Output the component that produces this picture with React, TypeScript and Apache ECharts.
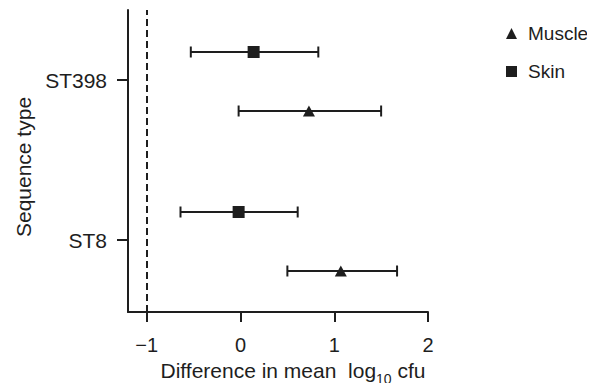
import React, { useEffect, useRef } from "react";
import * as echarts from "echarts";

const categories = ["ST8", "ST398"];
const seriesNames = ["Muscle", "Skin"];
// mean difference per category (ST8, ST398)
const muscleMean = [1.07, 0.73];
const muscleLow = [0.5, -0.02];
const muscleHigh = [1.67, 1.5];
const skinMean = [-0.02, 0.14];
const skinLow = [-0.64, -0.53];
const skinHigh = [0.61, 0.83];
const xTicks = [-1, 0, 1, 2];
const refLine = -1;

const INK = "#1e1e1e";
const FONT = "Liberation Sans, Arial, Helvetica, sans-serif";

export default function App() {
  const ref = useRef<HTMLDivElement>(null);
  useEffect(() => {
    if (!ref.current) return;
    const chart = echarts.init(ref.current, null, { renderer: "svg" });
    const catVal = (i: number) => i + 1;
    const errSeries = (name: string, low: number[], high: number[], off: number) => ({
      type: "custom",
      name: name + "-err",
      silent: true,
      data: categories.map((_, i) => [low[i], high[i], catVal(i)]),
      encode: { x: [0, 1], y: 2 },
      renderItem: (params: any, api: any) => {
        const p1 = api.coord([api.value(0), api.value(2)]);
        const p2 = api.coord([api.value(1), api.value(2)]);
        const y = p1[1] + off;
        const cap = 5.5;
        const st = { stroke: INK, lineWidth: 2 };
        return {
          type: "group",
          children: [
            { type: "line", shape: { x1: p1[0], y1: y, x2: p2[0], y2: y }, style: st },
            { type: "line", shape: { x1: p1[0], y1: y - cap, x2: p1[0], y2: y + cap }, style: st },
            { type: "line", shape: { x1: p2[0], y1: y - cap, x2: p2[0], y2: y + cap }, style: st },
          ],
        };
      },
      z: 2,
    });
    const option: any = {
      animation: false,
      textStyle: { fontFamily: FONT },
      grid: { left: 128, right: 167, top: 10, bottom: 79 },
      legend: {
        orient: "vertical",
        left: 506,
        top: 24,
        padding: 0,
        itemGap: 19,
        itemWidth: 11,
        itemHeight: 11,
        data: [
          { name: seriesNames[0], icon: "triangle" },
          { name: seriesNames[1], icon: "rect" },
        ],
        textStyle: { fontFamily: FONT, fontSize: 19, color: INK, padding: [0, 0, 0, 6] },
      },
      xAxis: {
        type: "value",
        min: -1.2,
        max: 2,
        splitLine: { show: false },
        axisLine: { onZero: false, lineStyle: { color: INK, width: 2 } },
        axisTick: { customValues: xTicks, length: 10, lineStyle: { color: INK, width: 2 } },
        axisLabel: {
          customValues: xTicks,
          margin: 23,
          fontSize: 20,
          color: INK,
          fontFamily: FONT,
          formatter: (v: number) => (v < 0 ? "\u2212" + Math.abs(v) : String(v)),
        },
        name: "{a|Difference in mean  log}{s|10}{a| cfu}",
        nameLocation: "middle",
        nameGap: 38,
        nameTextStyle: {
          padding: [0, 0, 0, 30],
          rich: {
            a: { fontSize: 21, color: INK, fontFamily: FONT, verticalAlign: "bottom", lineHeight: 23 },
            s: { fontSize: 14, color: INK, fontFamily: FONT, verticalAlign: "bottom", lineHeight: 16, padding: [0, 0, -5, 0] },
          },
        },
      },
      yAxis: {
        type: "value",
        min: 0.55,
        max: 2.4375,
        splitLine: { show: false },
        axisLine: { onZero: false, lineStyle: { color: INK, width: 2 } },
        axisTick: { customValues: [1, 2], length: 11, lineStyle: { color: INK, width: 2 } },
        axisLabel: {
          customValues: [1, 2],
          margin: 21,
          fontSize: 21,
          color: INK,
          fontFamily: FONT,
          formatter: (v: number) => categories[Math.round(v) - 1] ?? "",
        },
        name: "Sequence type",
        nameLocation: "middle",
        nameGap: 94,
        nameTextStyle: { fontSize: 21, color: INK, fontFamily: FONT, padding: [0, 12, 0, 0] },
      },
      series: [
        errSeries("Muscle", muscleLow, muscleHigh, 31),
        errSeries("Skin", skinLow, skinHigh, -28),
        {
          type: "scatter",
          name: seriesNames[0],
          symbol: "triangle",
          symbolSize: [12, 11],
          symbolOffset: [0, 31],
          itemStyle: { color: INK, opacity: 1 },
          data: categories.map((_, i) => [muscleMean[i], catVal(i)]),
          z: 3,
          markLine: {
            silent: true,
            symbol: "none",
            label: { show: false },
            lineStyle: { color: INK, type: [7, 4], width: 2 },
            data: [{ xAxis: refLine }],
          },
        },
        {
          type: "scatter",
          name: seriesNames[1],
          symbol: "rect",
          symbolSize: 12,
          symbolOffset: [0, -28],
          itemStyle: { color: INK, opacity: 1 },
          data: categories.map((_, i) => [skinMean[i], catVal(i)]),
          z: 3,
        },
      ],
    };
    chart.setOption(option);
    return () => chart.dispose();
  }, []);
  return <div ref={ref} style={{ width: 595, height: 391, margin: -8 }} />;
}
